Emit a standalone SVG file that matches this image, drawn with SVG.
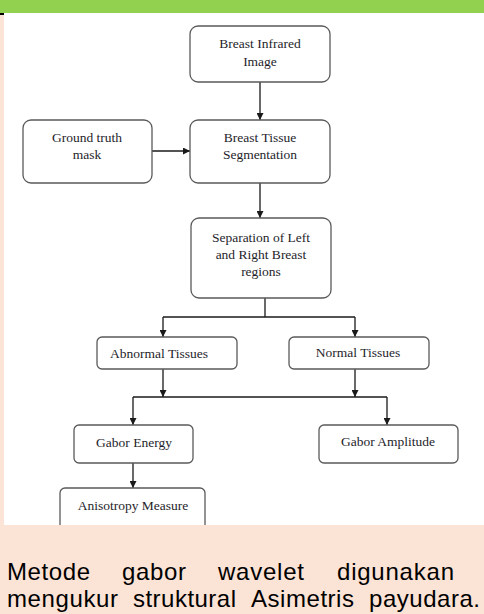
<svg xmlns="http://www.w3.org/2000/svg" width="484" height="614" viewBox="0 0 484 614">
  <style>
    .box { fill: #ffffff; stroke: #5a5a5a; stroke-width: 1.3; }
    .lbl { font-family: "Liberation Serif", "Times New Roman", serif; font-size: 13.5px; fill: #1e1e2a; text-anchor: middle; }
    .wire { fill: none; stroke: #1a1a1a; stroke-width: 1.3; }
    .body { font-family: "Liberation Sans", Arial, sans-serif; font-size: 24px; fill: #000000; }
  </style>
  <defs>
    <marker id="head" viewBox="0 0 10 10" refX="10" refY="5" markerWidth="7" markerHeight="7" markerUnits="userSpaceOnUse" orient="auto">
      <path d="M0,0 L10,5 L0,10 z" fill="#1a1a1a"/>
    </marker>
    <clipPath id="panel"><rect x="4" y="13" width="480" height="512"/></clipPath>
  </defs>

  <!-- page background -->
  <rect x="0" y="0" width="484" height="614" fill="#fbe3d6"/>
  <rect x="0" y="0" width="484" height="13" fill="#92d050"/>
  <rect x="0" y="13" width="4" height="2" fill="#000000"/>
  <rect x="4" y="13" width="480" height="512" fill="#ffffff"/>

  <!-- flowchart, clipped to the white panel -->
  <g clip-path="url(#panel)">
    <g id="connectors">
      <line class="wire" x1="260" y1="82" x2="260" y2="120" marker-end="url(#head)"/>
      <line class="wire" x1="152" y1="151" x2="190" y2="151" marker-end="url(#head)"/>
      <line class="wire" x1="260" y1="183" x2="260" y2="218" marker-end="url(#head)"/>
      <polyline class="wire" points="265,298 265,317"/>
      <polyline class="wire" points="163,317 355,317"/>
      <line class="wire" x1="163" y1="317" x2="163" y2="337" marker-end="url(#head)"/>
      <line class="wire" x1="355" y1="317" x2="355" y2="337" marker-end="url(#head)"/>
      <line class="wire" x1="163" y1="369" x2="163" y2="397" marker-end="url(#head)"/>
      <line class="wire" x1="355" y1="369" x2="355" y2="397" marker-end="url(#head)"/>
      <polyline class="wire" points="133,397 387,397"/>
      <line class="wire" x1="133" y1="397" x2="133" y2="425" marker-end="url(#head)"/>
      <line class="wire" x1="387" y1="397" x2="387" y2="425" marker-end="url(#head)"/>
      <line class="wire" x1="133" y1="463" x2="133" y2="488" marker-end="url(#head)"/>
    </g>

    <g id="infrared-image">
      <rect class="box" x="190" y="26" width="140" height="56" rx="8"/>
      <text class="lbl" x="260" y="48">Breast Infrared</text>
      <text class="lbl" x="260" y="66">Image</text>
    </g>

    <g id="ground-truth">
      <rect class="box" x="23" y="120" width="129" height="63" rx="8"/>
      <text class="lbl" x="87" y="142">Ground truth</text>
      <text class="lbl" x="87" y="159">mask</text>
    </g>

    <g id="segmentation">
      <rect class="box" x="190" y="120" width="140" height="63" rx="8"/>
      <text class="lbl" x="260" y="142">Breast Tissue</text>
      <text class="lbl" x="260" y="159">Segmentation</text>
    </g>

    <g id="separation">
      <rect class="box" x="191" y="218" width="140" height="80" rx="8"/>
      <text class="lbl" x="261" y="242">Separation of Left</text>
      <text class="lbl" x="261" y="259">and Right Breast</text>
      <text class="lbl" x="261" y="276">regions</text>
    </g>

    <g id="abnormal">
      <rect class="box" x="97" y="337" width="140" height="32" rx="5"/>
      <text class="lbl" x="159" y="358">Abnormal Tissues</text>
    </g>

    <g id="normal">
      <rect class="box" x="289" y="337" width="140" height="32" rx="5"/>
      <text class="lbl" x="358" y="357">Normal Tissues</text>
    </g>

    <g id="gabor-energy">
      <rect class="box" x="74" y="425" width="119" height="38" rx="5"/>
      <text class="lbl" x="134" y="447">Gabor Energy</text>
    </g>

    <g id="gabor-amplitude">
      <rect class="box" x="319" y="425" width="139" height="38" rx="5"/>
      <text class="lbl" x="388" y="446">Gabor Amplitude</text>
    </g>

    <g id="anisotropy">
      <rect class="box" x="60" y="488" width="145" height="50" rx="5"/>
      <text class="lbl" x="133" y="510">Anisotropy Measure</text>
    </g>
  </g>

  <!-- caption paragraph, justified -->
  <g class="body">
    <text x="7" y="580" textLength="83">Metode</text>
    <text x="122" y="580" textLength="64">gabor</text>
    <text x="218" y="580" textLength="86">wavelet</text>
    <text x="337" y="580" textLength="117">digunakan</text>
    <text x="7" y="607" textLength="111">mengukur</text>
    <text x="133" y="607" textLength="103">struktural</text>
    <text x="251" y="607" textLength="103">Asimetris</text>
    <text x="369" y="607" textLength="111">payudara.</text>
  </g>
</svg>
